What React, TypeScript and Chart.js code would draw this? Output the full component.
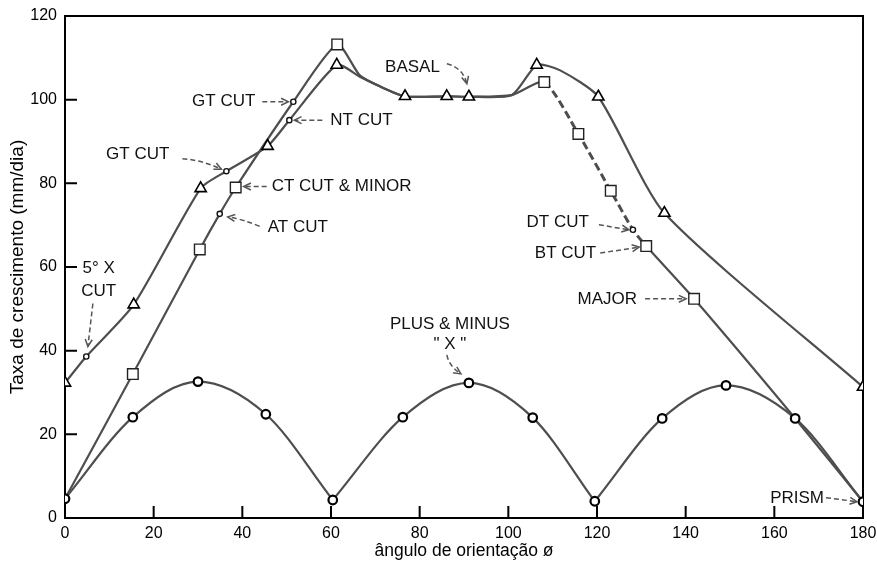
import React, { useEffect, useRef } from 'react';
import { Chart, registerables } from 'chart.js';

Chart.register(...registerables);

const FONT = '"Liberation Sans", Arial, Helvetica, sans-serif';

// Axis ticks
const xTickValues = [0, 20, 40, 60, 80, 100, 120, 140, 160, 180];
const yTickValues = [0, 20, 40, 60, 80, 100, 120];

// Triangle series (markers)
const triX = [0, 15.5, 30.6, 45.7, 61.3, 76.7, 86.1, 91.1, 106.4, 120.3, 135.2, 180];
const triY = [32.3, 51.0, 78.8, 88.9, 108.3, 100.8, 100.8, 100.7, 108.3, 100.7, 72.9, 31.3];
// extra points (no marker)
const triCurveX = [66.5, 71, 100.8, 111.7];
const triCurveY = [105.5, 103.2, 101.1, 107.0];

// Square series (markers)
const sqX = [15.3, 30.4, 38.5, 61.4, 108.1, 115.8, 123.1, 131.1, 141.9];
const sqY = [34.4, 64.2, 79.0, 113.2, 104.2, 91.8, 78.2, 65.0, 52.4];
// extra points (no marker)
const sqCurveX = [0, 66.5, 71, 76.7, 86.1, 91.1, 100.8, 164.7, 180];
const sqCurveY = [4.6, 105.8, 103.2, 100.8, 100.8, 100.7, 101.1, 23.8, 3.9];
// dashed stretch of the square curve
const sqDashFrom = 108.1;
const sqDashTo = 131.1;

// Circle series (three arches)
const circX = [0, 15.3, 30.0, 45.3, 60.4, 76.2, 91.1, 105.5, 119.5, 134.7, 149.1, 164.7, 180];
const circY = [4.6, 24.1, 32.6, 24.8, 4.3, 24.1, 32.3, 24.0, 4.0, 23.8, 31.7, 23.8, 3.9];
const archCusps = [0, 4, 8, 12];

// Cut points (small dots on the curves)
const cutNames = ['5° X CUT', 'GT CUT', 'AT CUT', 'GT CUT', 'NT CUT', 'DT CUT'];
const cutX = [4.8, 36.4, 34.9, 51.5, 50.6, 128.1];
const cutY = [38.6, 82.9, 72.7, 99.5, 95.1, 68.9];
const cutCurve = ['tri', 'tri', 'sq', 'sq', 'tri', 'sq'];

type Ann = {
  text: string[];
  tx: number;
  ty: number;
  textDx: number;
  textDy: number;
  lineGap?: number;
  align: CanvasTextAlign;
  from: [number, number];
  to: [number, number];
  ctrl?: [number, number];
};

const annotations: Ann[] = [
  { text: ['GT CUT'], tx: cutX[3], ty: cutY[3], textDx: -38, textDy: 0, align: 'right', from: [-31, 0], to: [-5, 0] },
  { text: ['NT CUT'], tx: cutX[4], ty: cutY[4], textDx: 41, textDy: 0, align: 'left', from: [33, 0], to: [5, 0] },
  { text: ['GT CUT'], tx: cutX[1], ty: cutY[1], textDx: -57, textDy: -17, align: 'right', from: [-44, -12.5], to: [-5, -2], ctrl: [-24, -11] },
  { text: ['CT CUT & MINOR'], tx: sqX[2], ty: sqY[2], textDx: 36, textDy: -1, align: 'left', from: [31, -1], to: [8, -1] },
  { text: ['AT CUT'], tx: cutX[2], ty: cutY[2], textDx: 48, textDy: 13, align: 'left', from: [40, 12.5], to: [8, 3], ctrl: [22, 5] },
  { text: ['5° X', 'CUT'], tx: cutX[0], ty: cutY[0], textDx: 12.5, textDy: -88, lineGap: 23, align: 'center', from: [6.6, -53], to: [1.6, -10] },
  { text: ['BASAL'], tx: triX[7], ty: triY[7], textDx: -29, textDy: -29, align: 'right', from: [-22, -33], to: [-2, -13], ctrl: [-6, -29] },
  { text: ['PLUS & MINUS', '" X "'], tx: circX[6], ty: circY[6], textDx: -19, textDy: -59, lineGap: 20, align: 'center', from: [-22, -28], to: [-8, -9], ctrl: [-20, -17] },
  { text: ['DT CUT'], tx: cutX[5], ty: cutY[5], textDx: -44, textDy: -7, align: 'right', from: [-34, -5], to: [-4, 0] },
  { text: ['BT CUT'], tx: sqX[7], ty: sqY[7], textDx: -50, textDy: 7, align: 'right', from: [-46, 7], to: [-7, 1] },
  { text: ['MAJOR'], tx: sqX[8], ty: sqY[8], textDx: -57, textDy: 1, align: 'right', from: [-49, 0], to: [-8, 0] },
  { text: ['PRISM'], tx: circX[12], ty: circY[12], textDx: -39, textDy: -3, align: 'right', from: [-37, -4], to: [-6, 0] },
];

const pts = (xs: number[], ys: number[]) => xs.map((x, i) => ({ x, y: ys[i] }));
const sortPts = (a: { x: number; y: number }[]) => a.slice().sort((p, q) => p.x - q.x);

const LINE_COLOR = '#4e4e4e';

const framePlugin = {
  id: 'frame',
  beforeDatasetsDraw(chart: any) {
    const { ctx, chartArea: a, scales } = chart;
    ctx.save();
    ctx.strokeStyle = '#000';
    ctx.lineWidth = 2;
    ctx.strokeRect(a.left, a.top, a.right - a.left, a.bottom - a.top);
    ctx.beginPath();
    xTickValues.forEach((v) => {
      const px = scales.x.getPixelForValue(v);
      ctx.moveTo(px, a.bottom);
      ctx.lineTo(px, a.bottom - 12);
    });
    yTickValues.forEach((v) => {
      const py = scales.y.getPixelForValue(v);
      ctx.moveTo(a.left, py);
      ctx.lineTo(a.left + 12, py);
    });
    ctx.stroke();
    ctx.restore();
  },
};

const annPlugin = {
  id: 'anns',
  afterDatasetsDraw(chart: any) {
    const { ctx, scales } = chart;
    ctx.save();
    annotations.forEach((an) => {
      const px = scales.x.getPixelForValue(an.tx);
      const py = scales.y.getPixelForValue(an.ty);
      const sx = px + an.from[0];
      const sy = py + an.from[1];
      const ex = px + an.to[0];
      const ey = py + an.to[1];
      ctx.strokeStyle = '#555';
      ctx.lineWidth = 1.5;
      ctx.setLineDash([5, 3]);
      ctx.beginPath();
      ctx.moveTo(sx, sy);
      let ang: number;
      if (an.ctrl) {
        const cx = px + an.ctrl[0];
        const cy = py + an.ctrl[1];
        ctx.quadraticCurveTo(cx, cy, ex, ey);
        ang = Math.atan2(ey - cy, ex - cx);
      } else {
        ctx.lineTo(ex, ey);
        ang = Math.atan2(ey - sy, ex - sx);
      }
      ctx.stroke();
      ctx.setLineDash([]);
      ctx.beginPath();
      const L = 8;
      const spread = 0.45;
      ctx.moveTo(ex - L * Math.cos(ang - spread), ey - L * Math.sin(ang - spread));
      ctx.lineTo(ex, ey);
      ctx.lineTo(ex - L * Math.cos(ang + spread), ey - L * Math.sin(ang + spread));
      ctx.stroke();
      ctx.fillStyle = '#111';
      ctx.font = `17px ${FONT}`;
      ctx.textAlign = an.align;
      ctx.textBaseline = 'middle';
      an.text.forEach((t, i) => {
        ctx.fillText(t, px + an.textDx, py + an.textDy + i * (an.lineGap || 0));
      });
    });
    ctx.restore();
  },
};

export default function App() {
  const ref = useRef<HTMLCanvasElement | null>(null);

  useEffect(() => {
    if (!ref.current) return;

    const triLine = sortPts([
      ...pts(triX, triY),
      ...pts(triCurveX, triCurveY),
      ...pts(cutX, cutY).filter((_, i) => cutCurve[i] === 'tri'),
    ]);
    const sqLine = sortPts([
      ...pts(sqX, sqY),
      ...pts(sqCurveX, sqCurveY),
      ...pts(cutX, cutY).filter((_, i) => cutCurve[i] === 'sq'),
    ]);
    const circPts = pts(circX, circY);
    const arches = archCusps.slice(0, -1).map((c, i) => circPts.slice(c, archCusps[i + 1] + 1));

    const lineBase = {
      type: 'line' as const,
      borderColor: LINE_COLOR,
      borderWidth: 2.2,
      pointRadius: 0,
      fill: false,
      order: 2,
    };

    const isDashed = (c: any) => {
      const x0 = sqLine[c.p0DataIndex].x;
      const x1 = sqLine[c.p1DataIndex].x;
      return x0 >= sqDashFrom - 0.01 && x1 <= sqDashTo + 0.01;
    };

    const chart = new Chart(ref.current, {
      type: 'line',
      data: {
        datasets: [
          {
            label: 'triangles',
            data: pts(triX, triY),
            showLine: false,
            pointStyle: 'triangle',
            pointRadius: 6.5,
            pointBackgroundColor: '#fff',
            pointBorderColor: '#000',
            pointBorderWidth: 1.6,
            order: 0,
          },
          {
            label: 'squares',
            data: pts(sqX, sqY),
            showLine: false,
            pointStyle: 'rect',
            pointRadius: 7.5,
            pointBackgroundColor: '#fff',
            pointBorderColor: '#222',
            pointBorderWidth: 1.4,
            order: 0,
          },
          {
            label: 'circles',
            data: circPts,
            showLine: false,
            pointStyle: 'circle',
            pointRadius: 4.3,
            pointBackgroundColor: '#fff',
            pointBorderColor: '#000',
            pointBorderWidth: 2.2,
            order: 0,
          },
          {
            label: 'cuts',
            data: pts(cutX, cutY),
            showLine: false,
            pointStyle: 'circle',
            pointRadius: 2.6,
            pointBackgroundColor: '#fff',
            pointBorderColor: '#111',
            pointBorderWidth: 1.4,
            order: 0,
          },
          { ...lineBase, label: 'tri line', data: triLine, tension: 0.22 },
          {
            ...lineBase,
            label: 'sq line',
            data: sqLine,
            tension: 0.22,
            segment: {
              borderDash: (c: any) => (isDashed(c) ? [8, 4] : undefined),
              borderWidth: (c: any) => (isDashed(c) ? 3 : undefined),
            },
          },
          ...arches.map((a, i) => ({
            ...lineBase,
            label: `arch ${i + 1}`,
            data: a,
            cubicInterpolationMode: 'monotone' as const,
          })),
        ] as any,
      },
      options: {
        responsive: false,
        animation: false,
        devicePixelRatio: 1,
        parsing: false as any,
        layout: { padding: { top: 16, right: 14, left: 0, bottom: 0 } },
        plugins: {
          legend: { display: false },
          tooltip: { enabled: false },
        },
        scales: {
          x: {
            type: 'linear',
            min: 0,
            max: 180,
            grid: { display: false, drawTicks: false },
            border: { display: false },
            afterBuildTicks: (s: any) => {
              s.ticks = xTickValues.map((v) => ({ value: v }));
            },
            afterFit: (s: any) => {
              s.height = 44;
              s.paddingLeft = 0;
              s.paddingRight = 0;
            },
            ticks: {
              color: '#000',
              font: { family: FONT, size: 16 },
              padding: 6,
              maxRotation: 0,
              autoSkip: false,
            },
            title: {
              display: true,
              text: 'ângulo de orientação ø',
              color: '#000',
              font: { family: FONT, size: 17.5 },
              padding: { top: 0, bottom: 0 },
            },
          },
          y: {
            type: 'linear',
            min: 0,
            max: 120,
            grid: { display: false, drawTicks: false },
            border: { display: false },
            afterBuildTicks: (s: any) => {
              s.ticks = yTickValues.map((v) => ({ value: v }));
            },
            afterFit: (s: any) => {
              s.width = 65;
              s.paddingTop = 0;
              s.paddingBottom = 0;
            },
            ticks: {
              color: '#000',
              font: { family: FONT, size: 16 },
              padding: 8,
            },
            title: {
              display: true,
              text: 'Taxa de crescimento (mm/dia)',
              color: '#000',
              font: { family: FONT, size: 19 },
              padding: { top: 6, bottom: 0 },
            },
          },
        },
      },
      plugins: [framePlugin, annPlugin],
    });

    return () => chart.destroy();
  }, []);

  return (
    <div style={{ position: 'absolute', left: 0, top: 0, width: 877, height: 562, background: '#fff' }}>
      <canvas ref={ref} width={877} height={562} style={{ display: 'block' }} />
    </div>
  );
}
